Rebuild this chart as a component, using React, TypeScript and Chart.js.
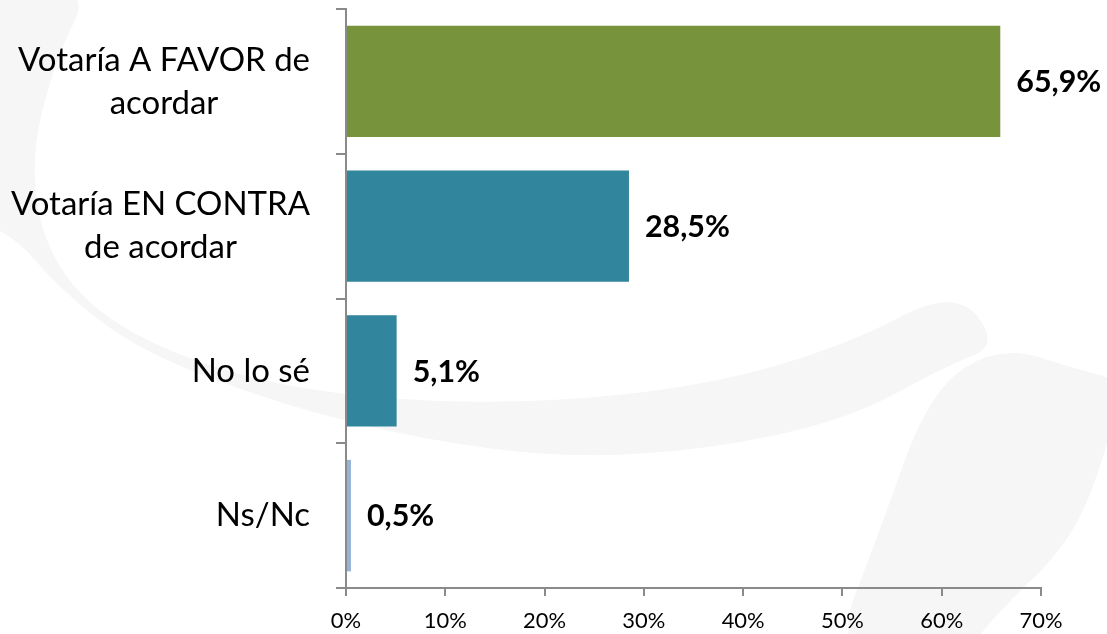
import React, { useEffect, useRef } from 'react';
import { Chart, registerables } from 'chart.js';

Chart.register(...registerables);

// ---- data ----
const categoryLines: string[][] = [
  ['Votaría A FAVOR de', 'acordar'],
  ['Votaría EN CONTRA', 'de acordar'],
  ['No lo sé'],
  ['Ns/Nc'],
];
const categories: string[] = categoryLines.map((l) => l.join(' '));
const values: number[] = [65.9, 28.5, 5.1, 0.5];
const barColors: string[] = ['#77933C', '#31859C', '#31859C', '#95B3D7'];
const xMin = 0;
const xMax = 70;
const xStep = 10;

const FONT = 'Lato, "Open Sans", sans-serif';
const AXIS = '#8a8a8a';

function fitSize(text: string, targetW: number, weight: string): number {
  const ctx = document.createElement('canvas').getContext('2d')!;
  ctx.font = `${weight} 100px ${FONT}`;
  return (100 * targetW) / ctx.measureText(text).width;
}

const fmt = (v: number) => v.toFixed(1).replace('.', ',') + '%';

function smoothPath(c: CanvasRenderingContext2D, pts: [number, number][]) {
  const n = pts.length;
  const mid = (a: [number, number], b: [number, number]) => [(a[0] + b[0]) / 2, (a[1] + b[1]) / 2];
  c.beginPath();
  const m0 = mid(pts[n - 1], pts[0]);
  c.moveTo(m0[0], m0[1]);
  for (let i = 0; i < n; i++) {
    const p = pts[i];
    const m = mid(p, pts[(i + 1) % n]);
    c.quadraticCurveTo(p[0], p[1], m[0], m[1]);
  }
  c.closePath();
}

export default function App() {
  const ref = useRef<HTMLCanvasElement | null>(null);

  useEffect(() => {
    document.body.style.margin = '0';
    const catSize = fitSize('Votaría A FAVOR de', 292, 'normal');
    const valSize = fitSize('65,9%', 85, 'bold');
    const tickSize = fitSize('10%', 43, 'normal');

    const watermark = {
      id: 'watermark',
      beforeDraw(chart: any) {
        const c = chart.ctx;
        c.save();
        c.fillStyle = '#ffffff';
        c.fillRect(0, 0, chart.width, chart.height);
        c.fillStyle = '#f6f6f6';
        const shapeA: [number, number][] = [
          [-80, -20], [95, -20], [55, 60], [30, 160], [45, 250], [100, 318], [212, 370],
          [353, 398], [529, 404], [706, 386], [847, 345], [955, 288], [1000, 345],
          [946, 366], [847, 420], [706, 450], [565, 458], [424, 440], [282, 405],
          [141, 352], [60, 290], [10, 230], [-80, 200],
        ];
        const shapeB: [number, number][] = [
          [1000, 345], [1080, 370], [1120, 380], [1110, 440], [1073, 540], [1000, 610], [960, 660],
          [830, 660], [880, 530], [930, 390],
        ];
        for (const pts of [shapeA, shapeB]) {
          smoothPath(c, pts);
          c.fill();
        }
        c.restore();
      },
    };

    const catLabels = {
      id: 'catLabels',
      afterDraw(chart: any) {
        const c = chart.ctx;
        const ys = chart.scales.y;
        c.save();
        c.fillStyle = '#000000';
        c.font = `normal ${catSize}px ${FONT}`;
        c.textAlign = 'center';
        c.textBaseline = 'middle';
        const lh = 43;
        categoryLines.forEach((lines, i) => {
          const yc = ys.getPixelForTick(i);
          const maxW = Math.max(...lines.map((l) => c.measureText(l).width));
          const cx = 310 - maxW / 2;
          lines.forEach((l, j) => {
            c.fillText(l, cx, yc + (j - (lines.length - 1) / 2) * lh);
          });
        });
        c.restore();
      },
    };

    const valueLabels = {
      id: 'valueLabels',
      afterDatasetsDraw(chart: any) {
        const c = chart.ctx;
        const meta = chart.getDatasetMeta(0);
        c.save();
        c.fillStyle = '#000000';
        c.font = `bold ${valSize}px ${FONT}`;
        c.textAlign = 'left';
        c.textBaseline = 'middle';
        meta.data.forEach((el: any, i: number) => {
          c.fillText(fmt(values[i]), el.x + 16, el.y + 1);
        });
        c.restore();
      },
    };

    const chart = new Chart(ref.current!, {
      type: 'bar',
      data: {
        labels: categories,
        datasets: [
          {
            data: values,
            backgroundColor: barColors,
            borderWidth: 0,
            barPercentage: 0.77,
            categoryPercentage: 1,
          },
        ],
      },
      options: {
        indexAxis: 'y',
        animation: false,
        responsive: false,
        devicePixelRatio: 1,
        layout: { padding: { top: 9, right: 66, left: 0, bottom: 0 } },
        plugins: {
          legend: { display: false },
          tooltip: { enabled: false },
        },
        scales: {
          x: {
            min: xMin,
            max: xMax,
            afterFit: (s: any) => {
              s.height = 46;
            },
            ticks: {
              stepSize: xStep,
              callback: (v: any) => v + '%',
              color: '#000000',
              font: { family: FONT, size: tickSize },
              padding: 12,
              maxRotation: 0,
            },
            grid: {
              drawOnChartArea: false,
              color: AXIS,
              lineWidth: 2,
              tickLength: 8,
            },
            border: { color: AXIS, width: 2 },
          },
          y: {
            afterFit: (s: any) => {
              s.width = 346;
            },
            ticks: { display: false },
            grid: {
              drawOnChartArea: false,
              offset: true,
              color: AXIS,
              lineWidth: 2,
              tickLength: 10,
            },
            border: { color: AXIS, width: 2 },
          },
        },
      },
      plugins: [watermark, catLabels, valueLabels],
    });
    return () => chart.destroy();
  }, []);

  return (
    <div style={{ position: 'absolute', left: 0, top: 0, width: 1107, height: 634 }}>
      <canvas ref={ref} width={1107} height={634} style={{ width: 1107, height: 634 }} />
    </div>
  );
}
